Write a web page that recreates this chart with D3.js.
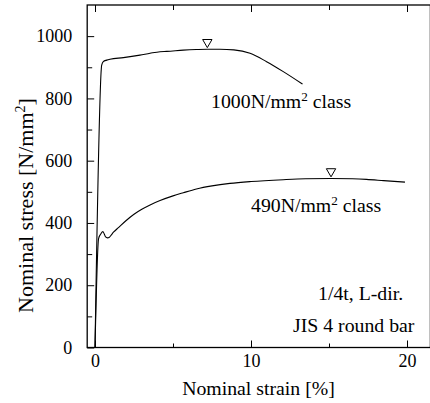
<!DOCTYPE html>
<html>
<head>
<meta charset="utf-8">
<script src="https://cdn.jsdelivr.net/npm/d3@7"></script>
<style>
  body { margin: 0; background: #fff; }
  svg { display: block; }
  text { font-family: "Liberation Serif", "Times New Roman", serif; fill: #000; }
</style>
</head>
<body>
<svg id="chart" width="430" height="403"></svg>
<script>
// Tensile test curves: nominal strain [%] vs nominal stress [N/mm2]
const strain1000 = [0, 0.43, 0.53, 0.75, 0.96, 1.82, 2.88, 3.53, 4.17, 4.6, 5.66, 6.5, 7.2, 8.0, 8.9, 9.94, 11.0, 12.07, 13.3];
const stress1000 = [0, 907, 918, 923, 926, 931, 939, 945, 950, 951, 955, 957, 958, 958, 956, 945, 918, 886, 846];

const strain490 = [0, 0.23, 0.35, 0.5, 0.6, 0.68, 0.8, 0.92, 1.05, 1.2, 1.5, 2.0, 2.5, 3.0, 3.53, 4.17, 5.0, 5.66, 6.5, 7.5, 8.65, 10.0, 12.07, 13.5, 15.13, 16.5, 17.4, 18.5, 19.87];
const stress490 = [0, 350, 363, 372, 364, 355, 352, 354, 362, 371, 385, 408, 428, 444, 458, 472, 487, 497, 509, 519, 527, 533, 539, 542, 543, 542, 540, 536, 531];

// Tensile strength points (open triangles)
const peakStrain = [7.2, 15.13];
const peakStress = [958, 543];

const classNames = ["1000", "490"];
const classLabelStrain = [7.44, 10.0];
const classLabelStress = [769, 435];

const xMajorTicks = [0, 10, 20];
const xMinorTicks = [5, 15];
const yMajorTicks = [0, 200, 400, 600, 800, 1000];
const yMinorTicks = [100, 300, 500, 700, 900];
const noteLines = ["1/4t, L-dir.", "JIS 4 round bar"];

const svg = d3.select("#chart");
const x = d3.scaleLinear().domain([-0.5, 21.5]).range([87.2, 430.4]);
const y = d3.scaleLinear().domain([0, 1100]).range([347.5, 5]);
const tickFs = 18;     // tick labels
const textFs = 18;     // annotations and x title
const textSx = 1.1;    // horizontal stretch of annotation text
const titleFs = 22;    // y title

// Frame
svg.append("rect")
  .attr("x", x(-0.5)).attr("y", y(1100))
  .attr("width", x(21.5) - x(-0.5)).attr("height", y(0) - y(1100))
  .attr("fill", "none").attr("stroke", "#000").attr("stroke-width", 1.3);

function styleAxis(g) {
  g.select(".domain").remove();
  g.selectAll(".tick line").attr("stroke", "#000").attr("stroke-width", 1);
  g.selectAll(".tick text").style("font-size", tickFs + "px")
    .style("font-family", '"Liberation Serif", "Times New Roman", serif').attr("fill", "#000");
}

// Bottom axis
svg.append("g").attr("transform", `translate(0,${y(0)})`)
  .call(d3.axisBottom(x).tickValues(xMajorTicks).tickSizeInner(-7).tickSizeOuter(0).tickPadding(7).tickFormat(d3.format("d")))
  .call(styleAxis);
svg.append("g").attr("transform", `translate(0,${y(0)})`)
  .call(d3.axisBottom(x).tickValues(xMinorTicks).tickSizeInner(-4).tickSizeOuter(0).tickFormat(""))
  .call(styleAxis);

// Top axis (ticks only)
svg.append("g").attr("transform", `translate(0,${y(1100)})`)
  .call(d3.axisTop(x).tickValues(xMajorTicks).tickSizeInner(-7).tickSizeOuter(0).tickFormat(""))
  .call(styleAxis);
svg.append("g").attr("transform", `translate(0,${y(1100)})`)
  .call(d3.axisTop(x).tickValues(xMinorTicks).tickSizeInner(-5).tickSizeOuter(0).tickFormat(""))
  .call(styleAxis);

// Left axis
svg.append("g").attr("transform", `translate(${x(-0.5)},0)`)
  .call(d3.axisLeft(y).tickValues(yMajorTicks).tickSizeInner(-7).tickSizeOuter(0).tickPadding(15).tickFormat(d3.format("d")))
  .call(styleAxis);
svg.append("g").attr("transform", `translate(${x(-0.5)},0)`)
  .call(d3.axisLeft(y).tickValues(yMinorTicks).tickSizeInner(-5).tickSizeOuter(0).tickFormat(""))
  .call(styleAxis);

// Curves
const line = d3.line().x(d => x(d[0])).y(d => y(d[1])).curve(d3.curveMonotoneX);
const series = [
  d3.zip(strain1000, stress1000),
  d3.zip(strain490, stress490)
];
svg.selectAll("path.curve").data(series).join("path")
  .attr("class", "curve")
  .attr("d", line)
  .attr("fill", "none").attr("stroke", "#000").attr("stroke-width", 1.1);

// Tensile strength markers
const tri = d3.symbol().type(d3.symbolTriangle).size(38);
svg.selectAll("path.peak").data(d3.zip(peakStrain, peakStress)).join("path")
  .attr("class", "peak")
  .attr("d", tri)
  .attr("transform", d => `translate(${x(d[0])},${y(d[1]) - 7}) rotate(180)`)
  .attr("fill", "#fff").attr("stroke", "#000").attr("stroke-width", 1);

// Stretched text placed at (px, py)
function label(px, py, anchor) {
  return svg.append("text")
    .attr("transform", `translate(${px},${py}) scale(${textSx},1)`)
    .attr("text-anchor", anchor)
    .style("font-size", textFs + "px");
}

// Class labels
classNames.forEach((name, i) => {
  const t = label(x(classLabelStrain[i]), y(classLabelStress[i]), "start");
  t.append("tspan").text(name + "N/mm");
  t.append("tspan").attr("dy", -7).style("font-size", "12px").text("2");
  t.append("tspan").attr("dy", 7).text(" class");
});

// Specimen note
noteLines.forEach((d, i) => {
  label(i === 0 ? 318 : 293, 300 + i * 32, "start").text(d);
});

// Axis titles
label(258.5, 395, "middle").text("Nominal strain [%]");

const yt = svg.append("text")
  .attr("transform", "translate(33,205.5) rotate(-90)")
  .attr("text-anchor", "middle")
  .style("font-size", titleFs + "px");
yt.append("tspan").text("Nominal stress [N/mm");
yt.append("tspan").attr("dy", -8).style("font-size", "14px").text("2");
yt.append("tspan").attr("dy", 8).text("]");
</script>
</body>
</html>
